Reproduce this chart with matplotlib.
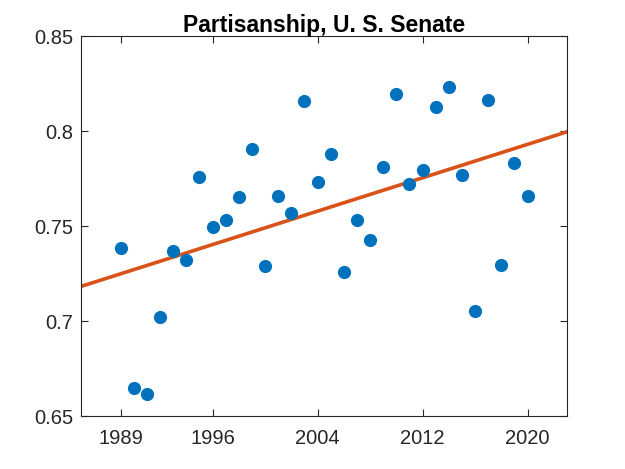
import numpy as np
import matplotlib
matplotlib.use('Agg')
import matplotlib.pyplot as plt

# ------------------------------
# Data
# ------------------------------
years = list(range(1989, 2021))
partisanship = [0.7386, 0.6646, 0.6616, 0.7019, 0.7367, 0.7323, 0.7758, 0.7493,
                0.7533, 0.7654, 0.7907, 0.7291, 0.7660, 0.7567, 0.8161, 0.7733,
                0.7879, 0.7260, 0.7530, 0.7426, 0.7812, 0.8193, 0.7721, 0.7795,
                0.8128, 0.8230, 0.7768, 0.7053, 0.8163, 0.7296, 0.7830, 0.7660]
xticks = [1989, 1996, 2004, 2012, 2020]
yticks = [0.65, 0.7, 0.75, 0.8, 0.85]
ytick_labels = ['0.65', '0.7', '0.75', '0.8', '0.85']

plt.rcParams['font.family'] = ['Liberation Sans', 'DejaVu Sans']

fig = plt.figure(figsize=(6.25, 4.69), dpi=100)
ax = fig.add_axes([0.13, 0.113, 0.777, 0.81])

# least squares trend line
coef = np.polyfit(years, partisanship, 1)
xfit = np.array([1986, 2023])
ax.plot(xfit, np.polyval(coef, xfit), color='#D95319', lw=2.6, zorder=2)
ax.plot(years, partisanship, 'o', color='#0072BD', ms=9.5, mec='none', zorder=3)

ax.set_xlim(1986, 2023)
ax.set_ylim(0.65, 0.85)
ax.set_xticks(xticks)
ax.set_yticks(yticks)
ax.set_yticklabels(ytick_labels)
ax.tick_params(direction='in', top=True, right=True, length=5, width=0.8,
               colors='#262626', labelsize=14.5)
ax.tick_params(axis='x', pad=9.5)
ax.tick_params(axis='y', pad=6)
for s in ax.spines.values():
    s.set_color('#262626')
    s.set_linewidth(0.8)
ax.set_title("Partisanship, U. S. Senate", fontsize=16.5, fontweight='bold', pad=3)

fig.savefig('out.png', dpi=100)
